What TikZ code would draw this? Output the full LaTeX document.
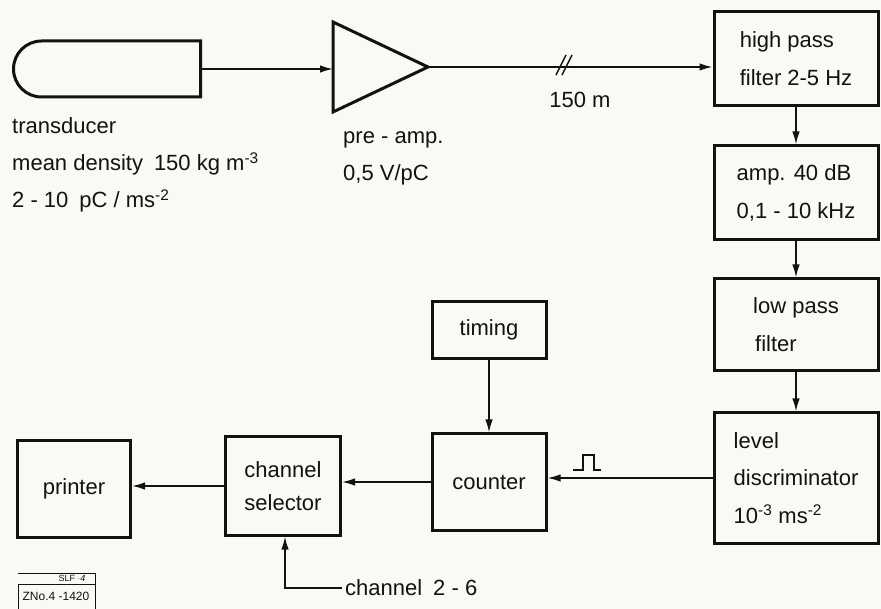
\documentclass[tikz,border=0pt]{standalone}
\usepackage{fontspec}
\setmainfont{Liberation Sans}
\usetikzlibrary{arrows.meta,shapes.misc}
\definecolor{paper}{rgb}{0.975,0.975,0.965}
\definecolor{ink}{rgb}{0.07,0.07,0.07}

\begin{document}
\begin{tikzpicture}[x=1pt,y=-1pt,draw=ink,text=ink,
    blk/.style={draw,line width=3pt,inner sep=0pt,align=left,font=\fontsize{22}{38}\selectfont},
    wire/.style={line width=1.7pt,-{Latex[length=13pt,width=7.5pt]}},
    txt/.style={align=left,inner sep=0pt,font=\fontsize{22}{37}\selectfont}]
        \useasboundingbox[fill=paper] (0,0) rectangle (881,609);
        \node[blk,rounded rectangle,rounded rectangle right arc=none,minimum width=187pt,minimum height=56pt] (tr) at (107,69) {};
        \coordinate (pa-in) at (333,69);
        \coordinate (pa-out) at (428,67);
        \draw[line width=3pt,line join=miter] (333,22) -- (pa-out) -- (333,112) -- cycle;
        \node[blk,minimum width=164pt,minimum height=94pt] (hp) at (796,59) {high pass\\filter 2-5 Hz};
        \node[blk,minimum width=164pt,minimum height=94pt] (amp) at (796,193) {amp. 40 dB\\0,1 - 10 kHz};
        \node[blk,minimum width=164pt,minimum height=92pt] (lp) at (796,325) {low pass\\\hspace*{2pt}filter};
        \node[blk,minimum width=164pt,minimum height=130pt,font=\fontsize{22}{37.5}\selectfont] (ld) at (796,478) {level\\discriminator\\10\textsuperscript{-3} ms\textsuperscript{-2}};
        \node[blk,minimum width=114pt,minimum height=57pt] (timing) at (489,330) {timing};
        \node[blk,minimum width=114pt,minimum height=96pt] (counter) at (489,482) {counter};
        \node[blk,minimum width=115pt,minimum height=98pt,align=center,font=\fontsize{22}{33}\selectfont] (sel) at (283,486) {channel\\selector};
        \node[blk,minimum width=113pt,minimum height=97pt] (printer) at (74,489) {printer};
        \node[txt,anchor=west] (tr-txt) at (12,165) {transducer\\mean density\enspace150 kg m\textsuperscript{-3}\\2 - 10\enspace pC / ms\textsuperscript{-2}};
        \node[txt,anchor=west] (pa-txt) at (343,158) {pre - amp.\\0,5 V/pC};
        \node[txt] (len) at (580,100) {150 m};
        \node[txt,anchor=west,inner sep=3pt] (ch) at (342,588) {channel\enspace 2 - 6};
        \draw[wire] (tr.east) -- (tr.east -| pa-in);
        \draw[wire] (pa-out) -- (pa-out -| hp.west);
        \draw[line width=1.5pt] (556,75) -- (566,55) (562,75) -- (572,55);
        \draw[wire] (hp.south) -- (amp.north);
        \draw[wire] (amp.south) -- (lp.north);
        \draw[wire] (lp.south) -- (ld.north);
        \draw[wire] (ld.west) -- (ld.west -| counter.east);
        \draw[line width=1.5pt] (573,470) -- (583,470) -- (583,455) -- (594,455) -- (594,470) -- (601,470);
        \draw[wire] (timing.south) -- (counter.north);
        \draw[wire] (counter.west) -- (counter.west -| sel.east);
        \draw[wire] (sel.west) -- (sel.west -| printer.east);
        \draw[wire] (ch.west) -| ([xshift=2pt]sel.south);
        \draw[line width=1pt] (18,573) -- (95,573) -- (95,612) (18,584) -- (95,584) (18,584) -- (18,612);
        \node[inner sep=0pt,font=\fontsize{9}{10}\selectfont] (slf) at (72,578.5) {SLF $\cdot$\textit{4}};
        \node[inner sep=0pt,font=\fontsize{12}{13}\selectfont] (zno) at (56,596) {ZNo.4 -1420};
    \end{tikzpicture}
\end{document}
